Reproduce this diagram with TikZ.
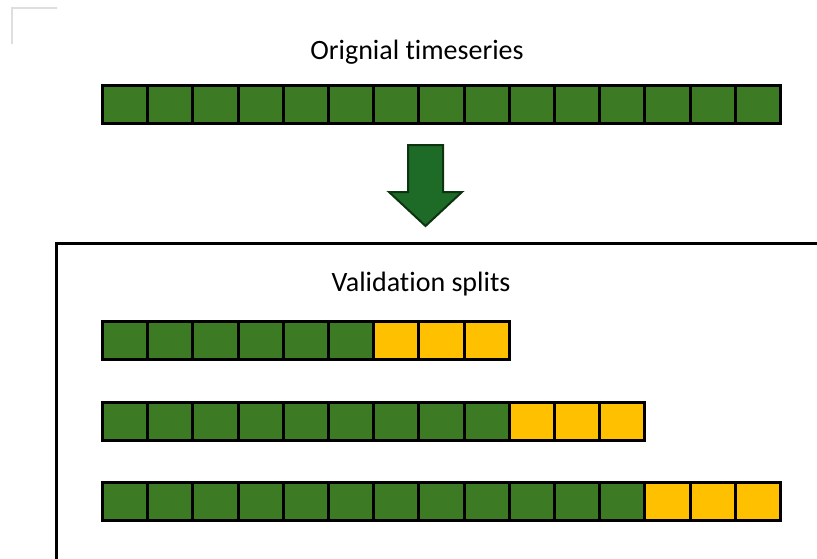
\documentclass[tikz,border=0pt]{standalone}
\usepackage{fontspec}
\setmainfont{Carlito}[Ligatures=NoCommon]
\usepackage{tikz}
\definecolor{trainGreen}{HTML}{3C7B23}
\definecolor{testYellow}{HTML}{FFC000}
\definecolor{arrowGreen}{HTML}{1E6A27}
\definecolor{arrowDark}{HTML}{0D3410}

\begin{document}
\begin{tikzpicture}[x=0.75pt,y=-0.75pt,
	cell/.style={draw,line width=2.25pt,minimum width=33.9pt,minimum height=28.5pt,inner sep=0pt,outer sep=0pt},
	train cell/.style={cell,fill=trainGreen},
	test cell/.style={cell,fill=testYellow},
	caption/.style={font=\fontsize{21}{25}\selectfont}
]
	\useasboundingbox (0,0) rectangle (817,558);

	\def \w {45.2};
	\def \x {102.5};

	\draw[black!13,line width=1.5pt] (57,8) -- (12,8) -- (12,44);

	\node[caption] (title) at (417,52) {Orignial timeseries};
	\foreach \i in {1,...,15} {
		\node[train cell] (o\i) at ({\x+\w*(\i-0.5)},104.5) {};
	}

	\draw[fill=arrowGreen,draw=arrowDark,line width=1.5pt,line join=miter]
		(408,145) -- (443,145) -- (443,192) -- (462,192) -- (425.5,226) -- (389,192) -- (408,192) -- cycle;

	\draw[line width=2.25pt] (820,243) -- (56,243) -- (56,560);
	\node[caption] (splits) at (421,284) {Validation splits};

	\foreach \r/\g/\y in {1/6/340.5, 2/9/421, 3/12/501.5} {
		\foreach \i in {1,...,\g} {
			\node[train cell] (s\r-\i) at ({\x+\w*(\i-0.5)},\y) {};
		}
		\foreach \j in {1,2,3} {
			\pgfmathtruncatemacro\k{\g+\j}
			\node[test cell] (s\r-\k) at ({\x+\w*(\k-0.5)},\y) {};
		}
	}
\end{tikzpicture}
\end{document}
